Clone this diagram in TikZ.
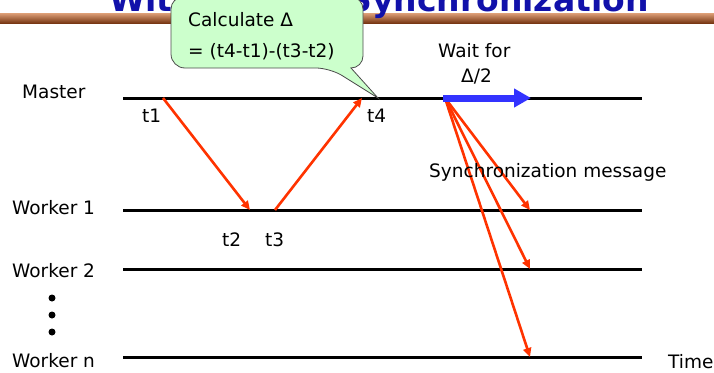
\documentclass[tikz,border=0pt]{standalone}
\usepackage{fontspec}
\setmainfont{DejaVu Sans}
\usetikzlibrary{arrows.meta}
\definecolor{redarr}{RGB}{255,51,0}
\definecolor{bluearr}{RGB}{51,51,255}
\definecolor{callfill}{RGB}{204,255,204}
\definecolor{titleblue}{RGB}{17,17,170}
\definecolor{barlight}{RGB}{222,160,120}
\definecolor{barmid}{RGB}{170,85,40}
\definecolor{bardark}{RGB}{120,55,20}
\begin{document}
\begin{tikzpicture}[x=1pt,y=-1pt,
  lbl/.style={anchor=base west,inner sep=0pt,font=\fontsize{18.5}{22}\selectfont},
  timeline/.style={line width=3pt,black},
  msg/.style={redarr,line width=2.6pt,-{Triangle[length=9pt,width=8pt]}},
  waitarrow/.style={bluearr,line width=7pt,-{Triangle[length=17pt,width=18pt]}},
  calloutbox/.style={fill=callfill,draw=black!70,line width=0.8pt}]
\useasboundingbox (0,0) rectangle (714,372);
\clip (0,0) rectangle (714,372);
% title bar
\shade[top color=barlight,middle color=barmid,bottom color=bardark] (0,13) rectangle (714,23);
\node[anchor=base west,inner sep=0pt,text=titleblue,font=\bfseries\fontsize{33}{36}\selectfont] (title) at (109,11) {With Master Synchronization};
% timeline coordinates
\coordinate (m0) at (123,98);  \coordinate (m1) at (642,98);
\coordinate (a0) at (123,210); \coordinate (a1) at (642,210);
\coordinate (b0) at (123,269); \coordinate (b1) at (642,269);
\coordinate (n0) at (123,357); \coordinate (n1) at (642,357);
\draw[timeline] (m0) -- (m1);
\draw[timeline] (a0) -- (a1);
\draw[timeline] (b0) -- (b1);
\draw[timeline] (n0) -- (n1);
% labels
\node[lbl] (master) at (22,98) {Master};
\node[lbl] (w1) at (12,214) {Worker 1};
\node[lbl] (w2) at (12,277) {Worker 2};
\node[lbl] (wn) at (12,367) {Worker n};
\node[lbl] (time) at (668,368) {Time};
\fill (52,298) circle (3.5pt);
\fill (52,315) circle (3.5pt);
\fill (52,332) circle (3.5pt);
% event points
\coordinate (e1) at (163,98);
\coordinate (e2) at (250,210);
\coordinate (e3) at (275,210);
\coordinate (e4) at (362,98);
\coordinate (s0) at (445,98);
\coordinate (r1) at (530,210);
\coordinate (r2) at (530,269);
\coordinate (rn) at (530,357);
\coordinate (wend) at (531,98);
\node[lbl] (t1) at (142,122) {t1};
\node[lbl] (t2) at (222,246) {t2};
\node[lbl] (t3) at (265,246) {t3};
\node[lbl] (t4) at (367,122) {t4};
% messages
\draw[msg] (e1) -- (e2);
\draw[msg] (e3) -- (e4);
\draw[msg] (s0) -- (r1);
\draw[msg] (s0) -- (r2);
\draw[msg] (s0) -- (rn);
\draw[waitarrow] (443,98) -- (wend);
\node[lbl] (wait1) at (438,57) {Wait for};
\node[lbl] (wait2) at (461,82) {Δ/2};
\node[lbl] (sync) at (429,177) {Synchronization message};
% callout
\coordinate (tip) at (378,98);
\draw[calloutbox] (171,30) [rounded corners=14pt] -- (171,68) -- (330,68) [sharp corners] -- (tip) -- (351,68) [rounded corners=12pt] -- (363,68) -- (363,-3) -- (171,-3) -- cycle;
\node[lbl] (calc1) at (188,27) {Calculate Δ};
\node[lbl] (calc2) at (188,57) {=\hspace{6pt}(t4-t1)-(t3-t2)};
\end{tikzpicture}
\end{document}
